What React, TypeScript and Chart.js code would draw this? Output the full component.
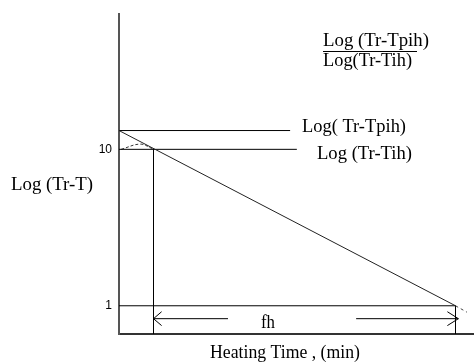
import React, { useEffect, useRef } from "react";
import { Chart, registerables } from "chart.js";

Chart.register(...registerables);

// Axis ranges (x: heating time, arbitrary units; y: log scale of Tr-T)
const xRange = [0, 100];
const yRange = [0.66, 73.1];
const yTickValues = [1, 10];

// Series (x = heating time, y = Tr - T)
const heatingLine = [
  { x: 0, y: 13.19 },
  { x: 94.79, y: 1 },
];
const heatingLineExtension = [
  { x: 94.79, y: 1 },
  { x: 98, y: 0.91 },
];
const pseudoInitialLine = [
  { x: 0, y: 13.19 },
  { x: 48.2, y: 13.19 },
];
const initialLine = [
  { x: 0, y: 10 },
  { x: 50.1, y: 10 },
];
const oneLine = [
  { x: 0, y: 1 },
  { x: 94.79, y: 1 },
];
const fhStartVertical = [
  { x: 9.72, y: 10 },
  { x: 9.72, y: 0.66 },
];
const fhEndVertical = [
  { x: 94.79, y: 1 },
  { x: 94.79, y: 0.66 },
];
const fhArrowLeft = [
  { x: 9.72, y: 0.827 },
  { x: 30.7, y: 0.827 },
];
const fhArrowRight = [
  { x: 66.8, y: 0.827 },
  { x: 95.6, y: 0.827 },
];
const fhArrowHeadLeft = [
  { x: 12.0, y: 0.916 },
  { x: 9.72, y: 0.827 },
  { x: 12.0, y: 0.747 },
];
const fhArrowHeadRight = [
  { x: 92.5, y: 0.916 },
  { x: 95.6, y: 0.827 },
  { x: 92.5, y: 0.747 },
];
const lagArc = [
  { x: 0.6, y: 10 },
  { x: 6, y: 10.8 },
  { x: 9.4, y: 10.1 },
];

const SERIF = '19px "Liberation Serif", "Times New Roman", serif';

function fitText(ctx: CanvasRenderingContext2D, text: string, x: number, y: number, w: number) {
  const m = ctx.measureText(text).width;
  ctx.save();
  ctx.translate(x, y);
  ctx.scale(w / m, 1);
  ctx.fillText(text, 0, 0);
  ctx.restore();
}

const textPlugin = {
  id: "diagramText",
  afterDraw(chart: any) {
    const ctx: CanvasRenderingContext2D = chart.ctx;
    ctx.save();
    ctx.fillStyle = "#000";
    ctx.font = SERIF;
    ctx.textBaseline = "alphabetic";
    ctx.textAlign = "left";
    fitText(ctx, "Log (Tr-T)", 11, 190, 82);
    fitText(ctx, "Heating Time , (min)", 210, 358, 150);
    fitText(ctx, "Log( Tr-Tpih)", 302, 132, 104);
    fitText(ctx, "Log (Tr-Tih)", 317, 159, 95);
    fitText(ctx, "Log (Tr-Tpih)", 323, 46, 106);
    fitText(ctx, "Log(Tr-Tih)", 323, 66, 89);
    fitText(ctx, "fh", 261, 328, 14);
    ctx.strokeStyle = "#000";
    ctx.lineWidth = 1;
    ctx.beginPath();
    ctx.moveTo(323, 51.5);
    ctx.lineTo(417, 51.5);
    ctx.stroke();
    ctx.restore();
  },
};

function lineDs(data: any[], extra: any = {}) {
  return {
    data,
    borderColor: "#000",
    borderWidth: 1,
    pointRadius: 0,
    showLine: true,
    fill: false,
    tension: 0,
    ...extra,
  };
}

export default function App() {
  const ref = useRef<HTMLCanvasElement | null>(null);
  useEffect(() => {
    if (!ref.current) return;
    const chart = new Chart(ref.current, {
      type: "line",
      data: {
        datasets: [
          lineDs(heatingLine, { borderColor: "#222" }),
          lineDs(heatingLineExtension, { borderColor: "#444", borderDash: [3, 3] }),
          lineDs(pseudoInitialLine),
          lineDs(initialLine),
          lineDs(oneLine),
          lineDs(fhStartVertical),
          lineDs(fhEndVertical),
          lineDs(fhArrowLeft),
          lineDs(fhArrowRight),
          lineDs(fhArrowHeadLeft),
          lineDs(fhArrowHeadRight),
          lineDs(lagArc, { tension: 0.4, borderDash: [3, 2], borderColor: "#333" }),
        ] as any,
      },
      options: {
        animation: false,
        responsive: false,
        events: [],
        layout: { padding: { left: 0, top: 11, right: 0, bottom: 28 } },
        plugins: {
          legend: { display: false },
          tooltip: { enabled: false },
        },
        scales: {
          x: {
            type: "linear",
            min: xRange[0],
            max: xRange[1],
            grid: { display: false, drawTicks: false },
            ticks: { display: false },
            border: { color: "#333", width: 2 },
            afterFit: (axis: any) => {
              axis.height = 0;
            },
          },
          y: {
            type: "logarithmic",
            min: yRange[0],
            max: yRange[1],
            grid: { display: false, drawTicks: false },
            border: { color: "#555", width: 2 },
            ticks: {
              color: "#000",
              padding: 7,
              font: { family: '"Liberation Sans", Arial, sans-serif', size: 12 },
              callback: (v: any) => String(v),
            },
            afterBuildTicks: (axis: any) => {
              axis.ticks = yTickValues.map((v) => ({ value: v }));
            },
            afterFit: (axis: any) => {
              axis.width = 119;
            },
          },
        },
      } as any,
      plugins: [textPlugin],
    });
    return () => chart.destroy();
  }, []);
  return (
    <div style={{ position: "absolute", left: 0, top: 0, width: 474, height: 362, background: "#fff" }}>
      <canvas ref={ref} width={474} height={362} style={{ display: "block" }} />
    </div>
  );
}
